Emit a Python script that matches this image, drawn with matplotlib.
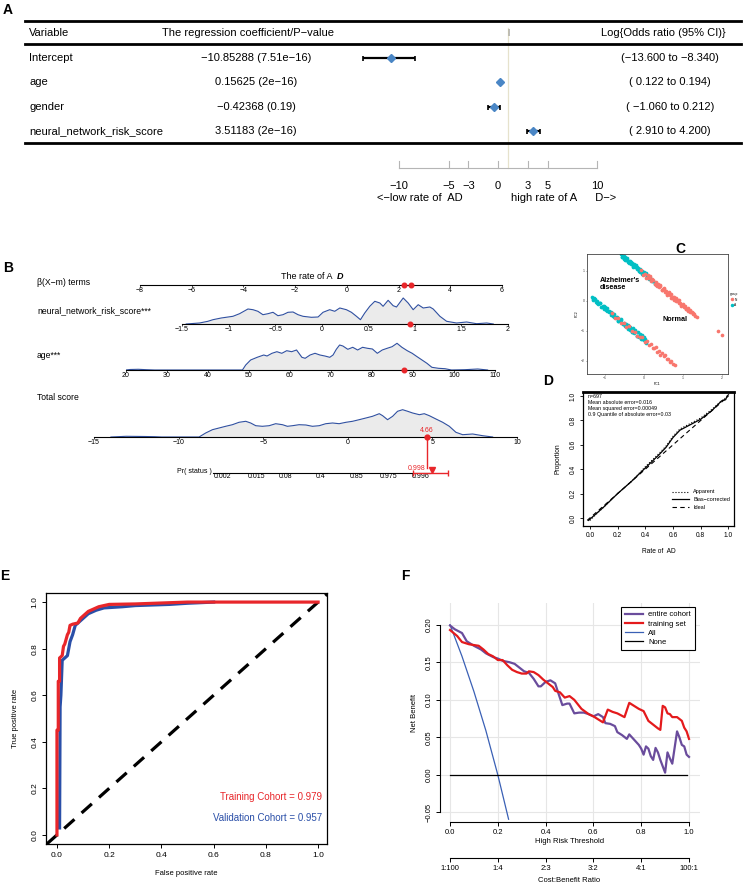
import numpy as np
import matplotlib
matplotlib.use('Agg')
import matplotlib.pyplot as plt
from matplotlib.lines import Line2D

W, H = 746, 885
plt.rcParams['font.family'] = ['Liberation Sans', 'DejaVu Sans']
NARROW = ['Liberation Sans Narrow', 'Liberation Sans', 'DejaVu Sans']

# ---------------- DATA ----------------
# Panel A: logistic regression forest table
a_vars = ['Intercept', 'age', 'gender', 'neural_network_risk_score']
a_coef = [-10.85288, 0.15625, -0.42368, 3.51183]
a_pval = ['7.51e−16', '2e−16', '0.19', '2e−16']
a_lo = [-13.600, 0.122, -1.060, 2.910]
a_hi = [-8.340, 0.194, 0.212, 4.200]
a_ticks = [-10, -5, -3, 0, 3, 5, 10]

# Panel B: nomogram
b_beta_ticks = [-8, -6, -4, -2, 0, 2, 4, 6]
b_beta_points = [2.2, 2.47]
b_nn_ticks = [-1.5, -1, -0.5, 0, 0.5, 1, 1.5, 2]
b_nn_x = [-1.455, -1.312, -1.222, -1.168, -1.079, -0.953, -0.882, -0.792, -0.738, -0.685, -0.631, -0.577,
          -0.523, -0.470, -0.416, -0.362, -0.308, -0.254, -0.201, -0.111, -0.039, 0.014, 0.086, 0.140,
          0.194, 0.265, 0.319, 0.373, 0.416, 0.462, 0.516, 0.570, 0.624, 0.659, 0.713, 0.767, 0.803,
          0.875, 0.928, 0.982, 1.036, 1.090, 1.161, 1.197, 1.269, 1.341, 1.448, 1.556, 1.663, 1.771, 1.842]
b_nn_d = [0, 1, 2.7, 4.3, 6, 7.7, 10.3, 15, 14.3, 12.7, 9.3, 10.3, 11.7, 8.3, 9.3, 11.7, 12, 9.3, 7.7,
          6.7, 7, 11.7, 14.3, 12.7, 16, 14.3, 11.7, 7.7, 4.3, 11, 17.7, 22.7, 21, 17.7, 23.7, 18.3, 17,
          26, 21, 14.3, 19.3, 16, 17, 15, 7.7, 2.7, 1, 2, 0.3, 1, 0]
b_nn_point = 0.95
b_age_ticks = [20, 30, 40, 50, 60, 70, 80, 90, 100, 110]
b_age_x = [20, 21, 23, 25, 27, 48.4, 49.2, 50.4, 52.0, 53.6, 54.4, 55.6, 56.8, 58.0, 59.2, 60.4, 61.6,
           62.9, 63.7, 64.9, 66.1, 67.3, 68.5, 69.7, 70.5, 71.3, 72.1, 72.9, 74.1, 75.3, 76.5, 77.7,
           78.9, 80.1, 81.3, 82.5, 83.7, 84.9, 86.1, 87.3, 88.6, 89.8, 91.0, 92.2, 93.4, 94.6, 96.2,
           97.8, 99.4, 102.6, 105.8, 108.2]
b_age_d = [0, 0.5, 0.7, 0.3, 0, 0, 5, 10, 12.7, 15, 14, 16.7, 18.3, 16.7, 19.3, 18.3, 20, 12.7, 11.7,
           15, 16.7, 15, 14, 12.7, 15, 20.7, 25, 24, 20.7, 22.7, 20, 22.7, 21.7, 21, 16.7, 20, 21.7,
           23.3, 26.7, 22.7, 19.3, 16.7, 13.3, 10, 6.7, 2.7, 1.7, 1.3, 0, 0.3, 1, 0]
b_age_point = 87.8
b_tot_ticks = [-15, -10, -5, 0, 5, 10]
b_tot_x = [-14, -13.1, -12, -11.4, -11, -8.79, -8.40, -8.00, -7.61, -7.22, -6.82, -6.43, -6.03, -5.74,
           -5.44, -5.05, -4.65, -4.26, -3.86, -3.57, -3.27, -2.88, -2.48, -2.09, -1.69, -1.30, -0.90,
           -0.51, -0.11, 0.28, 0.67, 1.07, 1.46, 1.86, 2.06, 2.35, 2.65, 2.94, 3.24, 3.54, 3.83, 4.23,
           4.52, 4.82, 5.21, 5.61, 6.00, 6.39, 6.79, 7.38, 7.97, 8.56]
b_tot_d = [0, 0.7, 0.5, 0.3, 0, 0, 4, 7.3, 9, 10.7, 12.3, 14.7, 15.7, 14, 11.3, 10.7, 11.3, 13.3, 12.3,
           10.7, 11.3, 12.3, 12, 10.7, 11.3, 13.3, 14, 13.3, 14.7, 15.7, 17.3, 19, 20.7, 23.3, 21.3,
           17.3, 20.7, 25.7, 27.3, 25.7, 24, 22.3, 23.3, 21.3, 18, 14.7, 10.7, 4.7, 2.3, 3, 1.3, 0]
b_tot_point = 4.66
b_pr_ticks = [0.002, 0.015, 0.08, 0.4, 0.85, 0.975, 0.996]
b_pr_labels = ['0.002', '0.015', '0.08', '0.4', '0.85', '0.975', '0.996']
b_pr_point = 0.998
b_pr_ci = [0.994, 0.9992]

# Panel C: PCA scatter (PC1, PC2)
c_teal_x = [-0.59, -0.56, -0.54, -0.51, -0.49, -0.46, -0.44, -0.41, -0.39, -0.36, -0.34, -0.31, -0.29,
            -0.26, -0.24, -0.21, -0.19, -0.16, -0.14, -0.11, -0.09, -0.06, -0.04, -0.01, 0.01, 0.04,
            0.07, 0.10, 0.13, 0.16, 0.20, 0.24, 0.28,
            -0.575, -0.525, -0.475, -0.425, -0.375, -0.325, -0.275, -0.225, -0.175, -0.125, -0.075,
            -0.025, 0.025, 0.085, 0.145, 0.22,
            -1.33, -1.30, -1.27, -1.24, -1.21, -1.18, -1.15, -1.12, -1.09, -1.06, -1.03, -1.00, -0.97,
            -0.94, -0.91, -0.88, -0.85, -0.82, -0.79, -0.76, -0.73, -0.70, -0.67, -0.64, -0.61, -0.58,
            -0.55, -0.52, -0.49, -0.46, -0.43, -0.40, -0.37, -0.34, -0.31, -0.28, -0.25, -0.22, -0.19,
            -0.16, -0.13, -0.10, -0.07, -0.04, -0.01, 0.02, 0.05,
            -1.315, -1.255, -1.195, -1.135, -1.075, -1.015, -0.955, -0.895, -0.835, -0.775, -0.715,
            -0.655, -0.595, -0.535, -0.475, -0.415, -0.355, -0.295, -0.235, -0.175, -0.115, -0.055, 0.0]
c_teal_y = [1.58, 1.46, 1.50, 1.39, 1.46, 1.37, 1.43, 1.29, 1.33, 1.34, 1.24, 1.26, 1.15, 1.22, 1.15,
            1.19, 1.07, 1.10, 1.01, 1.07, 0.98, 1.00, 0.89, 0.96, 0.90, 0.93, 0.80, 0.82, 0.72, 0.78,
            0.68, 0.68, 0.57,
            1.48, 1.49, 1.36, 1.38, 1.28, 1.30, 1.17, 1.16, 1.13, 1.01, 1.01, 0.89, 0.91, 0.80, 0.77, 0.67,
            0.13, 0.04, 0.09, -0.02, 0.01, -0.11, -0.07, -0.06, -0.19, -0.15, -0.28, -0.20, -0.30, -0.24,
            -0.38, -0.35, -0.47, -0.39, -0.50, -0.44, -0.58, -0.53, -0.66, -0.59, -0.68, -0.61, -0.77,
            -0.72, -0.84, -0.76, -0.88, -0.81, -0.96, -0.92, -1.04, -0.91, -1.08, -1.01, -1.18, -1.03,
            -1.19, -1.11, -1.28, -1.14, -1.31, -1.26, -1.39,
            0.06, 0.06, -0.08, -0.08, -0.20, -0.18, -0.34, -0.34, -0.38, -0.52, -0.52, -0.66, -0.62,
            -0.77, -0.76, -0.92, -0.87, -1.03, -0.98, -1.16, -1.12, -1.27, -1.21]
c_red_x = [-0.08, -0.02, 0.03, 0.06, 0.09, 0.12, 0.15, 0.18, 0.21, 0.24, 0.27, 0.30, 0.33, 0.36, 0.39,
           0.42, 0.45, 0.48, 0.51, 0.54, 0.57, 0.60, 0.63, 0.66, 0.69, 0.72, 0.75, 0.78, 0.81, 0.84,
           0.87, 0.90, 0.93, 0.96, 0.99, 1.02, 1.05, 1.08, 1.11, 1.14, 1.17, 1.20, 1.23, 1.26, 1.29,
           1.32, 1.36,
           0.10, 0.20, 0.31, 0.405, 0.465, 0.525, 0.585, 0.645, 0.705, 0.765, 0.825, 0.885, 0.945,
           1.005, 1.065, 1.125, 1.185, 1.245,
           -0.82, -0.74, -0.66, -0.58, -0.52, -0.45, -0.38, -0.30, -0.24, -0.18, -0.10, -0.05, 0.02,
           0.08, 0.13, 0.17, 0.22, 0.26, 0.30, 0.34, 0.38, 0.42, 0.46, 0.50, 0.54, 0.58, 0.62, 0.66,
           0.70, 0.74, 0.79,
           1.89, 1.99]
c_red_y = [1.05, 0.88, 0.91, 0.78, 0.86, 0.76, 0.82, 0.68, 0.71, 0.71, 0.57, 0.62, 0.50, 0.57, 0.48,
           0.53, 0.38, 0.41, 0.43, 0.30, 0.34, 0.20, 0.29, 0.19, 0.24, 0.10, 0.14, 0.02, 0.10, -0.01,
           0.05, -0.08, -0.06, -0.16, -0.10, -0.19, -0.15, -0.27, -0.25, -0.33, -0.29, -0.38, -0.36,
           -0.44, -0.44, -0.50, -0.53,
           0.76, 0.74, 0.55, 0.50, 0.36, 0.40, 0.25, 0.26, 0.11, 0.14, 0.01, 0.02, -0.13, -0.12,
           -0.27, -0.24, -0.37, -0.39,
           -0.40, -0.56, -0.55, -0.72, -0.73, -0.88, -0.84, -1.00, -1.02, -1.17, -1.21, -1.20, -1.36,
           -1.33, -1.46, -1.42, -1.58, -1.55, -1.54, -1.69, -1.67, -1.80, -1.74, -1.84, -1.81, -1.94,
           -1.93, -2.03, -2.00, -2.09, -2.13,
           -1.00, -1.13]
c_xticks = [-1, 0, 1, 2]
c_yticks = [-2, -1, 0, 1]

# Panel D: calibration
d_ideal_x = [-0.02, 1.0]
d_ideal_y = [-0.02, 1.0]
d_app_x = [0.0, 0.1, 0.2, 0.3, 0.4, 0.5, 0.55, 0.6, 0.65, 0.7, 0.8, 0.88, 0.95, 1.0]
d_app_y = [-0.02, 0.09, 0.2, 0.3, 0.42, 0.53, 0.59, 0.67, 0.73, 0.76, 0.82, 0.89, 0.96, 1.0]
d_bias_x = [-0.01, 0.05, 0.1, 0.2, 0.3, 0.4, 0.5, 0.55, 0.6, 0.65, 0.7, 0.8, 0.88, 0.95, 0.98, 0.99, 1.0]
d_bias_y = [-0.02, 0.04, 0.09, 0.2, 0.3, 0.41, 0.52, 0.58, 0.66, 0.72, 0.75, 0.81, 0.88, 0.96, 0.97, 1.0, 1.01]
d_stats = ['n=697', 'Mean absolute error=0.016', 'Mean squared error=0.00049',
           '0.9 Quantile of absolute error=0.03']

# Panel E: ROC
e_train_fpr = [0, 0, 0.005, 0.005, 0.01, 0.01, 0.02, 0.025, 0.03, 0.035, 0.04, 0.045, 0.05, 0.06, 0.08,
               0.09, 0.1, 0.11, 0.12, 0.14, 0.16, 0.2, 0.3, 0.4, 0.5, 1.0]
e_train_tpr = [0, 0.45, 0.45, 0.66, 0.66, 0.76, 0.77, 0.81, 0.82, 0.84, 0.86, 0.87, 0.9, 0.905, 0.91,
               0.93, 0.94, 0.95, 0.96, 0.97, 0.98, 0.99, 0.992, 0.996, 1.0, 1.0]
e_val_fpr = [0.01, 0.012, 0.015, 0.017, 0.02, 0.03, 0.04, 0.05, 0.06, 0.07, 0.08, 0.1, 0.12, 0.15, 0.18,
             0.25, 0.3, 0.43, 0.5, 0.6]
e_val_tpr = [0.03, 0.55, 0.6, 0.66, 0.75, 0.76, 0.77, 0.83, 0.86, 0.9, 0.91, 0.93, 0.95, 0.965, 0.975,
             0.98, 0.985, 0.99, 0.995, 1.0]
e_auc_train = 0.979
e_auc_val = 0.957

# Panel F: decision curve
f_thr_p = [0.0, 0.02, 0.05, 0.07, 0.1, 0.13, 0.15, 0.18, 0.2, 0.22, 0.25, 0.27, 0.29, 0.31, 0.33, 0.35,
           0.37, 0.38, 0.4, 0.42, 0.44, 0.45, 0.47, 0.49, 0.5, 0.52, 0.54, 0.56, 0.58, 0.6, 0.62, 0.64,
           0.65, 0.67, 0.69, 0.7, 0.72, 0.74, 0.75, 0.77, 0.79, 0.8, 0.81, 0.82, 0.83, 0.84, 0.85, 0.86,
           0.87, 0.88, 0.9, 0.91, 0.92, 0.93, 0.95, 0.96, 0.97, 0.98, 0.99, 1.0]
f_entire = [0.199, 0.194, 0.189, 0.178, 0.172, 0.167, 0.162, 0.157, 0.155, 0.152, 0.15, 0.148, 0.143,
            0.138, 0.136, 0.128, 0.118, 0.118, 0.124, 0.126, 0.122, 0.112, 0.093, 0.095, 0.095, 0.082,
            0.083, 0.083, 0.081, 0.078, 0.081, 0.077, 0.069, 0.068, 0.065, 0.057, 0.053, 0.048, 0.054,
            0.047, 0.04, 0.035, 0.027, 0.038, 0.035, 0.025, 0.02, 0.036, 0.03, 0.02, 0.003, 0.03, 0.022,
            0.015, 0.058, 0.05, 0.04, 0.038, 0.027, 0.024]
f_thr_t = [0.0, 0.03, 0.05, 0.08, 0.1, 0.12, 0.14, 0.16, 0.18, 0.2, 0.22, 0.24, 0.26, 0.28, 0.3, 0.32,
           0.33, 0.35, 0.37, 0.39, 0.41, 0.43, 0.44, 0.46, 0.48, 0.5, 0.52, 0.55, 0.58, 0.6, 0.62, 0.64,
           0.66, 0.68, 0.7, 0.73, 0.75, 0.77, 0.79, 0.81, 0.83, 0.85, 0.87, 0.88, 0.89, 0.9, 0.91, 0.92,
           0.93, 0.95, 0.97, 0.98, 0.99, 1.0]
f_train = [0.193, 0.185, 0.177, 0.174, 0.173, 0.172, 0.167, 0.161, 0.158, 0.153, 0.153, 0.146, 0.14,
           0.137, 0.135, 0.135, 0.138, 0.137, 0.133, 0.127, 0.122, 0.117, 0.112, 0.11, 0.103, 0.105, 0.1,
           0.088, 0.081, 0.078, 0.074, 0.07, 0.087, 0.084, 0.082, 0.077, 0.096, 0.092, 0.088, 0.085,
           0.072, 0.067, 0.062, 0.06, 0.092, 0.09, 0.082, 0.081, 0.077, 0.077, 0.072, 0.063, 0.058, 0.048]
f_all_x = [0.0, 0.05, 0.1, 0.15, 0.2, 0.245]
f_all_y = [0.2, 0.158, 0.111, 0.059, 0.0, -0.059]
f_none_x = [0.0, 0.99]
f_none_y = [0.0, 0.0]
f_ticks = [0.0, 0.2, 0.4, 0.6, 0.8, 1.0]
f_cb_labels = ['1:100', '1:4', '2:3', '3:2', '4:1', '100:1']
f_yticks = [-0.05, 0.0, 0.05, 0.10, 0.15, 0.20]

# ---------------- FIGURE ----------------
fig = plt.figure(figsize=(W / 100, H / 100), dpi=100)


def add_ax(l, t, r, b):
    return fig.add_axes([l / W, 1 - b / H, (r - l) / W, (b - t) / H])


def ftext(x, y, s, **kw):
    return fig.text(x / W, 1 - y / H, s, **kw)


RED = '#e8262a'
for lab, x, y in [('A', 8, 10), ('B', 8, 268), ('C', 680, 249), ('D', 548, 381), ('E', 5, 576), ('F', 405, 576)]:
    ftext(x, y, lab, fontsize=10, fontweight='bold', ha='center', va='center')

# ---------- Panel A ----------
axA = add_ax(0, 0, W, 210)
axA.set_xlim((0 - 498) / 9.9, (W - 498) / 9.9)
axA.set_ylim((210 - 58) / 24.3, (0 - 58) / 24.3)
axA.axis('off')
tY = axA.get_yaxis_transform()
fsA = 8.0
for yy in [-1.52, -0.58, 3.5]:
    axA.axhline(yy, xmin=25 / W, xmax=741 / W, color='black', lw=2.0)
hy = -1.03
axA.text(29 / W, hy, 'Variable', transform=tY, ha='left', va='center', fontsize=fsA, family=NARROW)
axA.text(248 / W, hy, 'The regression coefficient/P−value', transform=tY, ha='center', va='center',
         fontsize=fsA, family=NARROW)
axA.text(1, hy, '|', ha='center', va='center', fontsize=fsA - 2, family=NARROW, color='#555555')
axA.text(663 / W, hy, 'Log{Odds ratio (95% CI)}', transform=tY, ha='center', va='center',
         fontsize=fsA, family=NARROW)
for i, (v, c, p, lo, hi) in enumerate(zip(a_vars, a_coef, a_pval, a_lo, a_hi)):
    axA.text(29 / W, i, v, transform=tY, ha='left', va='center', fontsize=fsA, family=NARROW)
    axA.text(256 / W, i, f'{c:.5f} ({p})'.replace('-', '−'), transform=tY, ha='center', va='center',
             fontsize=fsA, family=NARROW)
    pad = '' if lo <= -10 else ' '
    ci = f'({pad}{lo:.3f} to {hi:.3f})'.replace('-', '−')
    axA.text(670 / W, i, ci, transform=tY, ha='center', va='center', fontsize=fsA, family=NARROW)
axA.plot([1, 1], [-1.25, 4.53], color='#e6e2cc', lw=0.9, zorder=0)
rows = np.arange(len(a_vars))
coef = np.array(a_coef)
axA.errorbar(coef, rows, xerr=[coef - np.array(a_lo), np.array(a_hi) - coef], fmt='none',
             ecolor='black', elinewidth=1.6, capsize=1.8, capthick=1.2, zorder=2)
axA.plot(coef, rows, 'D', color='#4a86c5', ms=4, zorder=3)
axA.plot([min(a_ticks), max(a_ticks)], [4.53, 4.53], color='#b5b5b5', lw=0.8)
for t in a_ticks:
    axA.plot([t, t], [4.53, 4.25], color='#b5b5b5', lw=0.8)
    axA.text(t, 5.27, str(t).replace('-', '−'), ha='center', va='center', fontsize=fsA, family=NARROW)
axA.text(-7.9, 5.76, '<−low rate of  AD', ha='center', va='center', fontsize=fsA, family=NARROW)
axA.text(6.6, 5.76, 'high rate of A      D−>', ha='center', va='center', fontsize=fsA, family=NARROW)


# ---------- Panel B ----------
def nomo(ax, xlim, ticks, labels=None, ymax=30):
    ax.set_xlim(*xlim)
    ax.set_ylim(0, ymax)
    for s in ['top', 'left', 'right']:
        ax.spines[s].set_visible(False)
    ax.spines['bottom'].set_linewidth(0.8)
    ax.set_yticks([])
    ax.set_xticks(ticks)
    if labels is not None:
        ax.set_xticklabels(labels)
    else:
        ax.set_xticklabels([f'{t:g}'.replace('-', '−') for t in ticks])
    ax.tick_params(axis='x', length=1.5, width=0.5, pad=0.2, labelsize=5)
    ax.patch.set_alpha(0)


fsB = 6.2
ftext(37, 283, 'β(X−m) terms', fontsize=fsB, va='center')
ftext(37, 311, 'neural_network_risk_score***', fontsize=fsB, va='center')
ftext(37, 356, 'age***', fontsize=fsB, va='center')
ftext(37, 397, 'Total score', fontsize=fsB, va='center')

axb0 = add_ax(140, 270, 502, 285)
nomo(axb0, (-8, 6), b_beta_ticks, ymax=15)
axb0.plot(b_beta_points, [0, 0], 'o', color=RED, ms=3.3, clip_on=False, zorder=5)
axb0.text(-0.54, 9, 'The rate of A', ha='right', va='center', fontsize=6.5)
axb0.text(-0.39, 9, 'D', ha='left', va='center', fontsize=6.5, fontweight='bold', fontstyle='italic')

dens_col = '#3050a0'
fill_col = '#ebebeb'
axb1 = add_ax(182, 294, 508, 324)
nomo(axb1, (-1.5, 2), b_nn_ticks)
axb1.fill_between(b_nn_x, b_nn_d, color=fill_col, lw=0)
axb1.plot(b_nn_x, b_nn_d, color=dens_col, lw=0.8)
axb1.plot([b_nn_point], [0], 'o', color=RED, ms=3.3, clip_on=False, zorder=5)

axb2 = add_ax(126, 340, 495, 370)
nomo(axb2, (20, 110), b_age_ticks)
axb2.fill_between(b_age_x, b_age_d, color=fill_col, lw=0)
axb2.plot(b_age_x, b_age_d, color=dens_col, lw=0.8)
axb2.plot([b_age_point], [0], 'o', color=RED, ms=3.3, clip_on=False, zorder=5)

axb3 = add_ax(94, 407, 517, 437)
nomo(axb3, (-15, 10), b_tot_ticks)
axb3.fill_between(b_tot_x, b_tot_d, color=fill_col, lw=0)
axb3.plot(b_tot_x, b_tot_d, color=dens_col, lw=0.8)
axb3.plot([b_tot_point, b_tot_point], [0, -31], color=RED, lw=1.0, clip_on=False, zorder=4)
axb3.plot([b_tot_point], [0], 'o', color=RED, ms=3.5, clip_on=False, zorder=5)
axb3.text(b_tot_point, 2.5, f'{b_tot_point:.2f}', color=RED, fontsize=5, ha='center', va='bottom')


def logit(p):
    p = np.asarray(p, dtype=float)
    return np.log(p / (1 - p))


axb4 = add_ax(213, 463, 430, 473)
nomo(axb4, (-6.75, 6.09), logit(b_pr_ticks), labels=b_pr_labels, ymax=10)
axb4.tick_params(axis='x', length=0, pad=0.3)
lp = float(logit(b_pr_point))
axb4.errorbar([lp], [0], xerr=[[lp - float(logit(b_pr_ci[0]))], [float(logit(b_pr_ci[1])) - lp]],
              fmt='none', ecolor=RED, elinewidth=1.0, capsize=2.5, capthick=1.0, clip_on=False, zorder=5)
axb4.plot([lp], [3.5], 'v', color=RED, ms=4.5, clip_on=False, zorder=6)
axb4.text(5.8, 4.5, f'{b_pr_point:.3f}', color=RED, fontsize=5, ha='right', va='center')
ftext(212, 471, 'Pr( status )', fontsize=5, ha='right', va='center')

# ---------- Panel C ----------
axC = add_ax(587, 254, 728, 374)
axC.set_xlim((587 - 644) / 39, (728 - 644) / 39)
axC.set_ylim((301 - 374) / 30, (301 - 254) / 30)
TEAL = '#00BFC4'
SALMON = '#F8766D'
axC.scatter(c_teal_x, c_teal_y, s=7, color=TEAL, lw=0, zorder=2)
axC.scatter(c_red_x, c_red_y, s=7, color=SALMON, lw=0, zorder=3)
axC.set_xticks(c_xticks)
axC.set_yticks(c_yticks)
axC.tick_params(labelsize=2.5, length=1, width=0.4, pad=0.8, colors='#444444')
for s in axC.spines.values():
    s.set_color('#444444')
    s.set_linewidth(0.6)
axC.set_xlabel('PC1', fontsize=2.5, labelpad=1)
axC.set_ylabel('PC2', fontsize=2.5, labelpad=1)
axC.text(-1.13, 0.58, "Alzheimer's\ndisease", fontsize=5.2, fontweight='bold', ha='left', va='center',
         linespacing=1.0)
axC.text(0.79, -0.63, 'Normal', fontsize=5.2, fontweight='bold', ha='center', va='center')
hC = [Line2D([], [], marker='o', ls='', color=SALMON, ms=1.5),
      Line2D([], [], marker='o', ls='', color=TEAL, ms=1.5)]
axC.legend(hC, ['N', 'A'], title='group', fontsize=2.3, title_fontsize=2.3, frameon=False,
           loc='center left', bbox_to_anchor=(1.0, 0.62), handlelength=0.6, handletextpad=0.3,
           labelspacing=0.5, borderpad=0.1)

# ---------- Panel D ----------
axD = add_ax(583, 392, 734, 526)
axD.set_xlim(-0.05, 1.04)
axD.set_ylim(-0.066, 1.033)
axD.plot(d_app_x, d_app_y, ls=':', color='black', lw=0.8, label='Apparent')
axD.plot(d_bias_x, d_bias_y, ls='-', color='black', lw=0.9, label='Bias−corrected')
axD.plot(d_ideal_x, d_ideal_y, ls=(0, (4, 3)), color='black', lw=0.8, label='Ideal')
axD.set_xticks([0, 0.2, 0.4, 0.6, 0.8, 1.0])
axD.set_yticks([0, 0.2, 0.4, 0.6, 0.8, 1.0])
axD.set_xticklabels(['0.0', '0.2', '0.4', '0.6', '0.8', '1.0'])
axD.set_yticklabels(['0.0', '0.2', '0.4', '0.6', '0.8', '1.0'], rotation=90, va='center')
axD.tick_params(labelsize=4.8, length=2.5, width=0.6, pad=2)
for s in axD.spines.values():
    s.set_linewidth(0.9)
axD.spines['top'].set_linewidth(2.0)
axD.set_xlabel('Rate of  AD', fontsize=4.8, labelpad=6)
axD.set_ylabel('Proportion', fontsize=4.8, labelpad=6)
axD.text(0.03, 0.985, '\n'.join(d_stats), transform=axD.transAxes, fontsize=3.8, va='top', ha='left',
         linespacing=1.25)
axD.legend(loc='lower right', bbox_to_anchor=(1.0, 0.09), fontsize=4, frameon=False, handlelength=3.0,
           handletextpad=0.8, labelspacing=0.5, borderaxespad=0.3)

# ---------- Panel E ----------
axE = add_ax(46, 593, 327, 844)
axE.set_xlim(-0.042, 1.034)
axE.set_ylim(-0.039, 1.039)
axE.axline((0, 0), (1, 1), color='black', lw=2.3, ls=(0, (4.3, 3)), zorder=1)
axE.plot(e_val_fpr, e_val_tpr, color='#2a4fa8', lw=2.3, zorder=2)
axE.plot(e_train_fpr, e_train_tpr, color=RED, lw=2.3, zorder=3)
axE.set_xticks([0, 0.2, 0.4, 0.6, 0.8, 1.0])
axE.set_yticks([0, 0.2, 0.4, 0.6, 0.8, 1.0])
axE.set_xticklabels(['0.0', '0.2', '0.4', '0.6', '0.8', '1.0'])
axE.set_yticklabels(['0.0', '0.2', '0.4', '0.6', '0.8', '1.0'], rotation=90, va='center')
axE.tick_params(labelsize=6, length=3, width=0.7, pad=2.5)
for s in axE.spines.values():
    s.set_linewidth(0.9)
axE.set_xlabel('False positive rate', fontsize=5.5, labelpad=8)
axE.set_ylabel('True positive rate', fontsize=5.5, labelpad=9)
axE.text(1.015, 0.163, f'Training Cohort = {e_auc_train:.3f}', color=RED, fontsize=7, ha='right', va='center')
axE.text(1.015, 0.073, f'Validation Cohort = {e_auc_val:.3f}', color='#2a4fa8', fontsize=7, ha='right',
         va='center')

# ---------- Panel F ----------
axF = add_ax(440, 603, 700, 822)
axF.set_xlim(-0.042, 1.046)
axF.set_ylim(-0.0627, 0.229)
axF.grid(True, color='#e6e6e6', lw=0.8, zorder=0)
axF.set_axisbelow(True)
axF.plot(f_all_x, f_all_y, color='#3a60b5', lw=0.9, label='All', zorder=2)
axF.plot(f_none_x, f_none_y, color='black', lw=0.9, label='None', zorder=2)
axF.plot(f_thr_p, f_entire, color='#6a4c9c', lw=1.6, label='entire cohort', zorder=3)
axF.plot(f_thr_t, f_train, color='#e41a1c', lw=1.6, label='training set', zorder=4)
axF.spines['top'].set_visible(False)
axF.spines['right'].set_visible(False)
axF.spines['left'].set_bounds(-0.05, 0.2)
axF.spines['bottom'].set_bounds(0, 1)
for s in ['left', 'bottom']:
    axF.spines[s].set_linewidth(0.8)
axF.set_xticks(f_ticks)
axF.set_xticklabels(['0.0', '0.2', '0.4', '0.6', '0.8', '1.0'])
axF.set_yticks(f_yticks)
axF.set_yticklabels([f'{v:.2f}'.replace('-', '−') for v in f_yticks], rotation=90, va='center')
axF.tick_params(labelsize=5.5, length=3, width=0.7, pad=2)
axF.set_xlabel('High Risk Threshold', fontsize=5.5, labelpad=1.5)
axF.set_ylabel('Net Benefit', fontsize=5.5, labelpad=6)
hF, lF = axF.get_legend_handles_labels()
order = [2, 3, 0, 1]
legF = axF.legend([hF[i] for i in order], [lF[i] for i in order], loc='upper right',
                  bbox_to_anchor=(0.995, 1.0), fontsize=5.5, frameon=True, fancybox=False,
                  edgecolor='black', framealpha=1, handlelength=2.4, labelspacing=0.25, borderpad=0.55,
                  handletextpad=0.6)
legF.get_frame().set_linewidth(0.8)

axF2 = add_ax(440, 848, 700, 858)
axF2.set_xlim(-0.042, 1.046)
axF2.set_ylim(0, 1)
for s in ['top', 'left', 'right']:
    axF2.spines[s].set_visible(False)
axF2.spines['bottom'].set_bounds(0, 1)
axF2.spines['bottom'].set_linewidth(0.8)
axF2.set_yticks([])
axF2.set_xticks(f_ticks)
axF2.set_xticklabels(f_cb_labels)
axF2.tick_params(labelsize=5.5, length=3, width=0.7, pad=2)
axF2.patch.set_alpha(0)
ftext(569, 881, 'Cost:Benefit Ratio', fontsize=5.5, ha='center', va='center')

fig.savefig('out.png', dpi=100)
